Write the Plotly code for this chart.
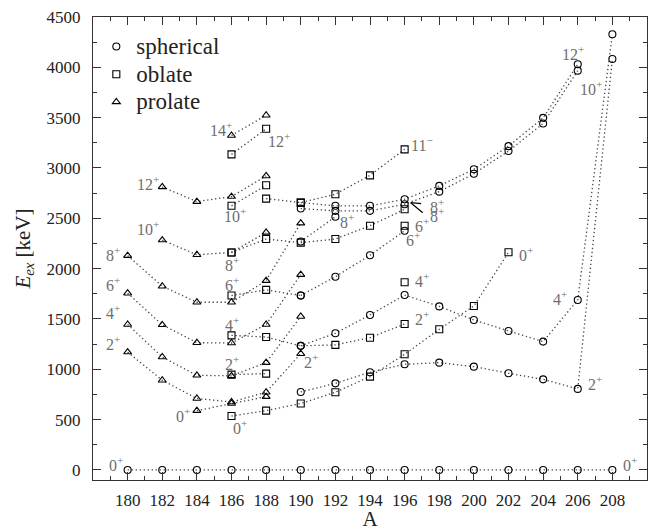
import plotly.graph_objects as go

# ---------------- data ----------------
# spherical (circles)
sph0_A = [180, 182, 184, 186, 188, 190, 192, 194, 196, 198, 200, 202, 204, 206, 208]
sph0_E = [0, 0, 0, 0, 0, 0, 0, 0, 0, 0, 0, 0, 0, 0, 0]
sph2_A = [190, 192, 194, 196, 198, 200, 202, 204, 206, 208]
sph2_E = [775, 860, 970, 1050, 1066, 1026, 960, 900, 805, 4083]
sph4_A = [190, 192, 194, 196, 198, 200, 202, 204, 206, 208]
sph4_E = [1233, 1358, 1540, 1738, 1625, 1490, 1381, 1275, 1689, 4329]
sph6_A = [190, 192, 194, 196]
sph6_E = [1733, 1920, 2133, 2376]
sph8_A = [190, 192]
sph8_E = [2270, 2515]
sph10_A = [190, 192, 194, 196, 198, 200, 202, 204, 206]
sph10_E = [2597, 2574, 2574, 2640, 2765, 2943, 3168, 3442, 3967]
sph12_A = [190, 192, 194, 196, 198, 200, 202, 204, 206]
sph12_E = [2656, 2624, 2624, 2690, 2822, 2987, 3217, 3498, 4030]
sph12_S = ["s", "c", "c", "c", "c", "c", "c", "c", "c"]

# oblate (squares)
obl0_A = [186, 188, 190, 192, 194, 196, 198, 200, 202]
obl0_E = [536, 589, 660, 772, 927, 1149, 1397, 1629, 2162]
obl2_A = [186, 188]
obl2_E = [947, 957]
obl4_A = [186, 188, 190, 192, 194, 196]
obl4_E = [1337, 1320, 1233, 1242, 1314, 1450]
obl4_S = ["s", "s", "c", "s", "s", "s"]
obl4b_A = [196]
obl4b_E = [1864]
obl6_A = [186, 188, 190]
obl6_E = [1733, 1789, 1733]
obl6_S = ["s", "s", "c"]
obl6b_A = [196]
obl6b_E = [2426]
obl8_A = [186, 188, 190, 192, 194, 196]
obl8_E = [2161, 2294, 2258, 2294, 2426, 2590]
obl10_A = [186, 188]
obl10_E = [2624, 2828]
obl11_A = [188, 190, 192, 194, 196]
obl11_E = [2696, 2656, 2739, 2927, 3185]
obl12_A = [186, 188]
obl12_E = [3135, 3389]

# prolate (triangles)
pro0_A = [184, 186, 188]
pro0_E = [589, 660, 728]
pro2_A = [180, 182, 184, 186, 188, 190]
pro2_E = [1171, 891, 710, 675, 772, 1155]
pro4_A = [180, 182, 184, 186, 188, 190]
pro4_E = [1445, 1122, 940, 935, 1066, 1525]
pro6_A = [180, 182, 184, 186, 188, 190]
pro6_E = [1756, 1442, 1264, 1261, 1445, 1940]
pro8_A = [180, 182, 184, 186, 188, 190]
pro8_E = [2129, 1825, 1666, 1666, 1881, 2452]
pro10_A = [182, 184, 186, 188]
pro10_E = [2284, 2138, 2161, 2360]
pro10_S = ["t", "t", "s", "t"]
pro12_A = [182, 184, 186, 188]
pro12_E = [2812, 2666, 2716, 2921]
pro14_A = [186, 188]
pro14_E = [3323, 3524]

# level labels
lab_text = ["0<sup>+</sup>", "0<sup>+</sup>", "2<sup>+</sup>", "4<sup>+</sup>", "6<sup>+</sup>",
            "8<sup>+</sup>", "10<sup>+</sup>", "12<sup>+</sup>", "14<sup>+</sup>", "12<sup>+</sup>",
            "10<sup>+</sup>", "8<sup>+</sup>", "6<sup>+</sup>", "4<sup>+</sup>", "2<sup>+</sup>",
            "0<sup>+</sup>", "0<sup>+</sup>", "2<sup>+</sup>", "8<sup>+</sup>", "11<sup>−</sup>",
            "8<sup>+</sup>", "8<sup>+</sup>", "6<sup>+</sup>", "6<sup>+</sup>", "4<sup>+</sup>",
            "2<sup>+</sup>", "0<sup>+</sup>", "4<sup>+</sup>", "2<sup>+</sup>", "12<sup>+</sup>",
            "10<sup>+</sup>"]
lab_A = [179.3, 209.0, 179.15, 179.15, 179.15, 179.15, 181.2, 181.2, 185.4, 188.75,
         186.2, 186.0, 186.0, 186.0, 186.0, 186.5, 183.2, 190.6, 192.7, 197.0,
         197.85, 197.85, 197.0, 196.5, 197.0, 197.0, 203.0, 205.0, 207.0, 205.7,
         206.75]
lab_E = [60, 60, 1260, 1570, 1850, 2150, 2400, 2850, 3390, 3280,
         2530, 2050, 1845, 1450, 1060, 430, 545, 1080, 2470, 3240,
         2620, 2530, 2430, 2290, 1885, 1505, 2150, 1705, 860, 4145,
         3790]

legend_names = ["spherical", "oblate", "prolate"]

# ---------------- figure ----------------
SYM = {"c": "circle-open", "s": "square-open", "t": "triangle-up-open"}
FONT = "Liberation Serif"
LINEC = "#444444"

chains = [
    (sph0_A, sph0_E, ["c"] * len(sph0_A)),
    (sph2_A, sph2_E, ["c"] * len(sph2_A)),
    (sph4_A, sph4_E, ["c"] * len(sph4_A)),
    (sph6_A, sph6_E, ["c"] * len(sph6_A)),
    (sph8_A, sph8_E, ["c"] * len(sph8_A)),
    (sph10_A, sph10_E, ["c"] * len(sph10_A)),
    (sph12_A, sph12_E, sph12_S),
    (obl0_A, obl0_E, ["s"] * len(obl0_A)),
    (obl2_A, obl2_E, ["s"] * len(obl2_A)),
    (obl4_A, obl4_E, obl4_S),
    (obl4b_A, obl4b_E, ["s"]),
    (obl6_A, obl6_E, obl6_S),
    (obl6b_A, obl6b_E, ["s"]),
    (obl8_A, obl8_E, ["s"] * len(obl8_A)),
    (obl10_A, obl10_E, ["s"] * len(obl10_A)),
    (obl11_A, obl11_E, ["s"] * len(obl11_A)),
    (obl12_A, obl12_E, ["s"] * len(obl12_A)),
    (pro0_A, pro0_E, ["t"] * len(pro0_A)),
    (pro2_A, pro2_E, ["t"] * len(pro2_A)),
    (pro4_A, pro4_E, ["t"] * len(pro4_A)),
    (pro6_A, pro6_E, ["t"] * len(pro6_A)),
    (pro8_A, pro8_E, ["t"] * len(pro8_A)),
    (pro10_A, pro10_E, pro10_S),
    (pro12_A, pro12_E, ["t"] * len(pro12_A)),
    (pro14_A, pro14_E, ["t"] * len(pro14_A)),
]

fig = go.Figure()
for xs, ys, ss in chains:
    fig.add_trace(go.Scatter(
        x=xs, y=ys, mode="lines+markers", showlegend=False, cliponaxis=False,
        line=dict(color=LINEC, width=1.3, dash="1.3px,2.7px"),
        marker=dict(symbol=[SYM[s] for s in ss], size=7, color="black",
                    line=dict(color="black", width=1.1)),
        hoverinfo="skip"))

for name, sym in zip(legend_names, ["c", "s", "t"]):
    fig.add_trace(go.Scatter(
        x=[None], y=[None], mode="markers",
        name="<span style='font-size:23px'>" + name + "</span>",
        marker=dict(symbol=SYM[sym], size=7, color="black",
                    line=dict(color="black", width=1.1))))

for t, a, e in zip(lab_text, lab_A, lab_E):
    fig.add_annotation(x=a, y=e, text=t, showarrow=False, xanchor="center",
                       yanchor="middle", font=dict(family=FONT, size=16, color="#6e6e6e"))

# small leader lines next to the A=196 "8+" labels
fig.add_shape(type="line", x0=196.35, y0=2655, x1=196.95, y1=2645,
              line=dict(color="black", width=1.2))
fig.add_shape(type="line", x0=196.35, y0=2655, x1=197.05, y1=2555,
              line=dict(color="black", width=1.2))

axis_common = dict(showline=True, linecolor="#333333", linewidth=1.3, mirror="allticks",
                   ticks="inside", ticklen=8, tickwidth=1.1, tickcolor="#333333",
                   showgrid=False, zeroline=False, automargin=False,
                   tickfont=dict(family=FONT, size=17, color="#222222"))

fig.update_layout(
    width=648, height=531,
    margin=dict(l=93, r=1, t=17, b=51),
    paper_bgcolor="white", plot_bgcolor="white",
    xaxis=dict(range=[178, 210], tickmode="array", tickvals=sph0_A,
               minor=dict(tickvals=[179 + 2 * i for i in range(16)], ticks="inside",
                          ticklen=4, tickcolor="#333333"),
               title=dict(text="A", font=dict(family=FONT, size=21, color="#222222"),
                          standoff=13),
               ticklabelstandoff=4, **axis_common),
    yaxis=dict(range=[-100, 4500], tickmode="array", tickvals=[500 * i for i in range(10)],
               minor=dict(tickvals=[250 + 500 * i for i in range(9)], ticks="inside",
                          ticklen=4, tickcolor="#333333"),
               title=dict(text="<i>E</i><sub><i>ex</i></sub> [keV]",
                          font=dict(family=FONT, size=21, color="#222222"), standoff=10),
               ticklabelstandoff=8, **axis_common),
    legend=dict(x=0.006, y=0.977, xanchor="left", yanchor="top",
                font=dict(family=FONT, size=19, color="#222222"),
                bgcolor="rgba(0,0,0,0)", itemwidth=30, tracegroupgap=0),
)

fig.write_html("out.html")
